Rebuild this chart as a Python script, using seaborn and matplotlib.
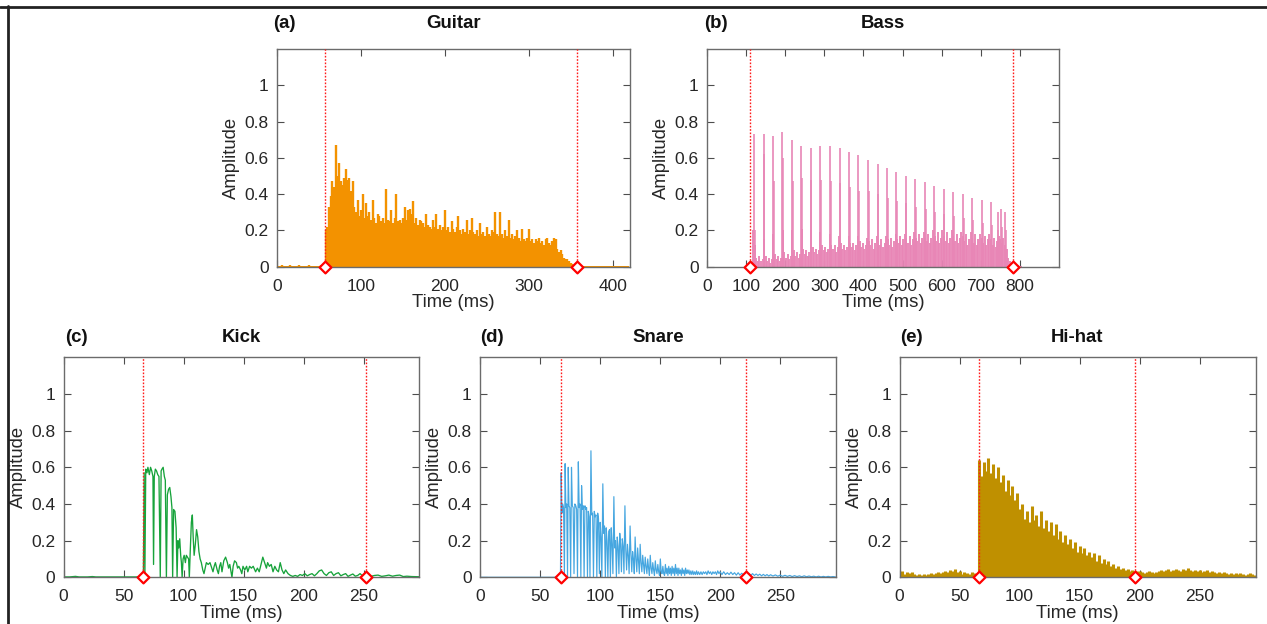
import numpy as np
import pandas as pd
import matplotlib
matplotlib.use("Agg")
import matplotlib.pyplot as plt
import seaborn as sns
from matplotlib.lines import Line2D

# ---------------- data ----------------
# Guitar: peak amplitude every 2 ms from 0 ms
guitar_step = 2
guitar_amp = [
    0.006, 0.005, 0.006, 0.007, 0.005, 0.006, 0.006, 0.005, 0.007, 0.006,
    0.005, 0.006, 0.006, 0.007, 0.005, 0.006, 0.006, 0.005, 0.006, 0.007,
    0.006, 0.005, 0.006, 0.006, 0.005, 0.006, 0.007, 0.006, 0.008,
    0.20, 0.22, 0.33, 0.39, 0.47, 0.44, 0.67, 0.50, 0.57, 0.47,
    0.45, 0.49, 0.54, 0.48, 0.49, 0.42, 0.47, 0.33, 0.30, 0.37,
    0.28, 0.31, 0.40, 0.27, 0.35, 0.28, 0.30, 0.26, 0.37, 0.27,
    0.24, 0.29, 0.28, 0.25, 0.27, 0.24, 0.43, 0.26, 0.25, 0.31,
    0.24, 0.27, 0.40, 0.25, 0.26, 0.24, 0.27, 0.33, 0.26, 0.31,
    0.32, 0.29, 0.36, 0.24, 0.27, 0.23, 0.26, 0.25, 0.24, 0.22,
    0.29, 0.23, 0.22, 0.21, 0.26, 0.22, 0.29, 0.21, 0.23, 0.20,
    0.22, 0.31, 0.20, 0.22, 0.19, 0.25, 0.21, 0.19, 0.22, 0.28,
    0.20, 0.18, 0.21, 0.19, 0.26, 0.18, 0.20, 0.27, 0.19, 0.18,
    0.20, 0.17, 0.24, 0.18, 0.19, 0.17, 0.22, 0.18, 0.17, 0.20,
    0.19, 0.30, 0.18, 0.17, 0.30, 0.18, 0.16, 0.20, 0.17, 0.26,
    0.16, 0.18, 0.15, 0.17, 0.20, 0.16, 0.14, 0.21, 0.15, 0.14,
    0.16, 0.21, 0.14, 0.15, 0.13, 0.15, 0.14, 0.16, 0.13, 0.14,
    0.12, 0.15, 0.16, 0.13, 0.12, 0.14, 0.16, 0.15, 0.10, 0.08,
    0.09, 0.07, 0.05, 0.04, 0.04, 0.03, 0.02, 0.015, 0.01, 0.008,
    0.006, 0.005,
    0.004, 0.005, 0.004, 0.003, 0.004, 0.003, 0.004, 0.003, 0.003, 0.004,
    0.003, 0.003, 0.002, 0.003, 0.003, 0.002, 0.003, 0.002, 0.003, 0.002,
    0.002, 0.003, 0.002, 0.002, 0.003, 0.002, 0.002, 0.002, 0.002,
]
guitar_marks = [57.5, 357.0]

# Bass: main pitch spikes, the spike right after each, and the low floor (every 4 ms from 110 ms)
bass_spike_t = [121, 145, 169, 193, 217, 241, 265, 290, 315, 339, 363, 387, 412, 436, 460,
                484, 508, 533, 557, 581, 605, 630, 654, 678, 703, 727, 743, 752, 762]
bass_spike_amp = [0.73, 0.73, 0.72, 0.74, 0.70, 0.665, 0.655, 0.665, 0.665, 0.655, 0.635,
                  0.615, 0.59, 0.565, 0.545, 0.52, 0.50, 0.485, 0.465, 0.445, 0.43, 0.41,
                  0.40, 0.38, 0.37, 0.355, 0.30, 0.32, 0.30]
bass_second_t = [123, 147, 171, 195, 219, 243, 267, 292, 317, 341, 365, 389, 414, 438, 462,
                 486, 510, 535, 559, 583, 607, 632, 656, 680, 705, 729, 745, 754, 764]
bass_second_amp = [0.20, 0.62, 0.47, 0.60, 0.47, 0.49, 0.48, 0.48, 0.47, 0.46, 0.44, 0.42,
                   0.42, 0.40, 0.38, 0.36, 0.35, 0.33, 0.32, 0.30, 0.29, 0.28, 0.27, 0.26,
                   0.24, 0.23, 0.20, 0.22, 0.20]
bass_floor_start = 110
bass_floor_step = 4
bass_floor = [
    0.01, 0.02, 0.20, 0.12, 0.05, 0.03, 0.06, 0.03, 0.04, 0.15,
    0.06, 0.03, 0.05, 0.02, 0.04, 0.18, 0.07, 0.04, 0.06, 0.03,
    0.05, 0.20, 0.08, 0.05, 0.07, 0.04, 0.06, 0.20, 0.09, 0.06,
    0.08, 0.05, 0.07, 0.21, 0.10, 0.07, 0.09, 0.06, 0.08, 0.20,
    0.11, 0.08, 0.10, 0.07, 0.09, 0.19, 0.12, 0.09, 0.11, 0.08,
    0.10, 0.18, 0.12, 0.10, 0.12, 0.08, 0.11, 0.17, 0.13, 0.10,
    0.12, 0.09, 0.11, 0.17, 0.13, 0.11, 0.13, 0.09, 0.12, 0.17,
    0.14, 0.11, 0.13, 0.10, 0.12, 0.16, 0.14, 0.12, 0.15, 0.10,
    0.13, 0.17, 0.14, 0.12, 0.15, 0.11, 0.13, 0.17, 0.15, 0.12,
    0.16, 0.11, 0.14, 0.18, 0.15, 0.13, 0.17, 0.12, 0.15, 0.18,
    0.16, 0.13, 0.17, 0.12, 0.15, 0.19, 0.16, 0.14, 0.18, 0.13,
    0.16, 0.19, 0.16, 0.14, 0.18, 0.13, 0.16, 0.20, 0.17, 0.14,
    0.19, 0.13, 0.16, 0.20, 0.17, 0.14, 0.19, 0.13, 0.16, 0.20,
    0.17, 0.14, 0.18, 0.13, 0.16, 0.19, 0.17, 0.14, 0.18, 0.12,
    0.15, 0.19, 0.16, 0.13, 0.18, 0.12, 0.15, 0.18, 0.16, 0.13,
    0.17, 0.12, 0.15, 0.18, 0.15, 0.12, 0.16, 0.11, 0.14, 0.17,
    0.15, 0.13, 0.16, 0.12, 0.10, 0.05, 0.03, 0.02, 0.015, 0.01,
    0.01, 0.008, 0.006, 0.004,
]
bass_marks = [110.0, 783.0]

# Kick: (time ms, amplitude) vertices of the trace
kick_points = [
    (0, 0.002), (5, 0.002), (8, 0.004), (10, 0.005), (13, 0.002), (20, 0.002), (24, 0.004),
    (27, 0.002), (35, 0.002), (45, 0.002), (55, 0.002), (64, 0.002), (66.5, 0.003),
    (67.2, 0.57), (67.8, 0.02), (68.5, 0.59), (69.5, 0.57), (70.3, 0.60), (71.5, 0.56),
    (72.5, 0.60), (73.5, 0.58), (74.5, 0.55), (75.0, 0.07), (75.6, 0.55), (76.5, 0.59),
    (77.5, 0.58), (78.5, 0.56), (79.5, 0.55), (80.6, 0.0), (81.3, 0.58), (82.0, 0.59),
    (83.0, 0.60), (84.0, 0.55), (84.8, 0.53), (85.7, 0.0), (86.5, 0.45), (87.5, 0.48),
    (88.5, 0.49), (89.5, 0.44), (90.3, 0.38), (90.9, 0.0), (91.7, 0.37), (92.8, 0.36),
    (93.8, 0.27), (94.6, 0.0), (95.3, 0.20), (96.0, 0.16), (96.8, 0.21), (97.6, 0.12),
    (98.2, 0.08), (98.8, 0.0), (99.6, 0.10), (100.5, 0.12), (101.5, 0.08), (102.3, 0.12),
    (103.3, 0.11), (104.2, 0.10), (104.8, 0.0), (105.6, 0.15), (106.5, 0.30), (107.3, 0.34),
    (108.0, 0.22), (108.8, 0.12), (109.8, 0.18), (110.8, 0.26), (111.8, 0.22), (112.8, 0.14),
    (113.8, 0.10), (114.8, 0.08), (116.0, 0.04), (117.0, 0.02), (118.0, 0.05), (119.0, 0.08),
    (120.5, 0.07), (122.0, 0.08), (123.5, 0.05), (124.5, 0.03), (125.5, 0.06), (126.5, 0.08),
    (128.0, 0.04), (129.0, 0.02), (130.0, 0.06), (131.0, 0.08), (132.0, 0.03), (133.5, 0.09),
    (135.0, 0.11), (136.5, 0.08), (137.5, 0.05), (138.5, 0.07), (139.5, 0.03), (140.3, 0.0),
    (141.3, 0.06), (142.5, 0.09), (144.0, 0.08), (145.0, 0.05), (146.0, 0.06), (147.5, 0.04),
    (148.5, 0.02), (149.5, 0.06), (151.0, 0.04), (152.5, 0.06), (153.5, 0.03), (155.0, 0.06),
    (156.5, 0.05), (158.0, 0.06), (160.0, 0.03), (161.5, 0.05), (163.0, 0.03), (164.5, 0.07),
    (166.0, 0.11), (167.5, 0.08), (169.0, 0.05), (170.0, 0.08), (171.5, 0.06), (173.0, 0.07),
    (174.5, 0.03), (176.0, 0.06), (177.5, 0.04), (179.0, 0.03), (180.5, 0.08), (182.0, 0.04),
    (183.5, 0.02), (185.0, 0.04), (187.0, 0.02), (189.0, 0.01), (191.0, 0.005), (193.0, 0.01),
    (195.0, 0.005), (197.0, 0.015), (199.0, 0.01), (201.0, 0.02), (203.0, 0.008), (205.0, 0.015),
    (207.0, 0.02), (209.0, 0.008), (211.0, 0.02), (213.0, 0.035), (215.0, 0.04), (217.0, 0.02),
    (219.0, 0.01), (221.0, 0.025), (223.0, 0.03), (225.0, 0.01), (227.0, 0.02), (229.0, 0.025),
    (231.0, 0.008), (233.0, 0.015), (235.0, 0.02), (237.0, 0.005), (239.0, 0.012), (241.0, 0.018),
    (243.0, 0.006), (245.0, 0.01), (247.0, 0.02), (249.0, 0.008), (251.0, 0.01), (253.0, 0.015),
    (256.0, 0.005), (259.0, 0.01), (262.0, 0.012), (265.0, 0.005), (268.0, 0.008), (271.0, 0.012),
    (274.0, 0.006), (277.0, 0.01), (280.0, 0.012), (283.0, 0.004), (286.0, 0.006), (290.0, 0.004),
    (296.0, 0.003),
]
kick_marks = [66.2, 252.0]

# Snare: (time ms, amplitude) vertices of the trace
snare_points = [
    (0, 0.0), (30, 0.0), (60, 0.0), (67.0, 0.0),
    (67.6, 0.57), (68.2, 0.35), (68.9, 0.40), (69.6, 0.38), (70.3, 0.0), (70.9, 0.62),
    (71.5, 0.38), (72.2, 0.40), (72.9, 0.0), (73.5, 0.60), (74.1, 0.39), (74.8, 0.38),
    (75.5, 0.0), (76.2, 0.60), (76.9, 0.39), (77.6, 0.38), (78.3, 0.02), (79.0, 0.40),
    (79.8, 0.39), (80.5, 0.37), (81.2, 0.0), (81.9, 0.63), (82.6, 0.38), (83.3, 0.40),
    (84.0, 0.0), (84.6, 0.50), (85.3, 0.37), (86.0, 0.39), (86.7, 0.0), (87.4, 0.39),
    (88.1, 0.37), (88.8, 0.38), (89.5, 0.0), (90.2, 0.36), (90.9, 0.33), (91.6, 0.0),
    (92.4, 0.69), (93.1, 0.34), (93.8, 0.35), (94.5, 0.0), (95.2, 0.36), (95.9, 0.33),
    (96.6, 0.34), (97.3, 0.0), (98.0, 0.35), (98.7, 0.32), (99.4, 0.02), (100.1, 0.30),
    (100.8, 0.22), (101.5, 0.0), (102.3, 0.51), (103.0, 0.24), (103.7, 0.28), (104.4, 0.0),
    (105.1, 0.27), (105.8, 0.20), (106.5, 0.0), (107.2, 0.25), (107.9, 0.26), (108.6, 0.0),
    (109.3, 0.27), (110.0, 0.18), (110.7, 0.02), (111.5, 0.44), (112.2, 0.16), (112.9, 0.20),
    (113.6, 0.0), (114.3, 0.22), (115.0, 0.17), (115.7, 0.02), (116.4, 0.24), (117.1, 0.18),
    (117.8, 0.03), (118.5, 0.21), (119.2, 0.17), (119.9, 0.02), (120.7, 0.39), (121.4, 0.15),
    (122.1, 0.04), (122.8, 0.18), (123.5, 0.12), (124.2, 0.02), (125.0, 0.28), (125.7, 0.13),
    (126.4, 0.03), (127.1, 0.14), (127.8, 0.10), (128.5, 0.02), (129.2, 0.22), (129.9, 0.10),
    (130.6, 0.03), (131.3, 0.16), (132.0, 0.09), (132.7, 0.02), (133.4, 0.18), (134.1, 0.08),
    (134.8, 0.03), (135.5, 0.12), (136.2, 0.07), (136.9, 0.02), (137.6, 0.11), (138.3, 0.06),
    (139.0, 0.02), (139.7, 0.10), (140.4, 0.05), (141.1, 0.01), (141.8, 0.12), (142.5, 0.05),
    (143.2, 0.02), (143.9, 0.08), (144.6, 0.04), (145.3, 0.01), (146.0, 0.09), (146.7, 0.04),
    (147.4, 0.02), (148.1, 0.07), (148.8, 0.03), (149.5, 0.01), (150.2, 0.10), (150.9, 0.03),
    (151.6, 0.02), (152.3, 0.06), (153.0, 0.02), (153.7, 0.01), (154.4, 0.07), (155.1, 0.02),
    (155.8, 0.05), (156.5, 0.01), (157.2, 0.06), (157.9, 0.02), (158.6, 0.05), (159.3, 0.01),
    (160.0, 0.06), (160.7, 0.02), (161.4, 0.05), (162.1, 0.01), (162.8, 0.07), (163.5, 0.02),
    (164.2, 0.05), (164.9, 0.01), (165.6, 0.05), (166.3, 0.02), (167.0, 0.04), (167.7, 0.01),
    (168.4, 0.05), (169.1, 0.02), (169.8, 0.04), (170.5, 0.01), (171.2, 0.05), (171.9, 0.02),
    (172.6, 0.04), (173.3, 0.02), (174.0, 0.04), (174.8, 0.015), (175.6, 0.035), (176.4, 0.015),
    (177.2, 0.035), (178.0, 0.015), (178.8, 0.03), (179.6, 0.015), (180.4, 0.035), (181.2, 0.015),
    (182.0, 0.03), (183.0, 0.015), (184.0, 0.03), (185.0, 0.015), (186.0, 0.03), (187.0, 0.02),
    (188.0, 0.03), (189.0, 0.015), (190.0, 0.035), (191.0, 0.02), (192.0, 0.03), (193.0, 0.015),
    (194.0, 0.03), (195.0, 0.02), (196.0, 0.03), (197.0, 0.015), (198.0, 0.035), (199.0, 0.02),
    (200.0, 0.03), (201.5, 0.015), (203.0, 0.03), (204.5, 0.015), (206.0, 0.025), (207.5, 0.015),
    (209.0, 0.028), (210.5, 0.015), (212.0, 0.025), (213.5, 0.012), (215.0, 0.025), (216.5, 0.012),
    (218.0, 0.022), (219.5, 0.012), (221.0, 0.022), (222.5, 0.012), (224.0, 0.02), (225.5, 0.01),
    (227.0, 0.02), (228.5, 0.01), (230.0, 0.018), (231.5, 0.01), (233.0, 0.017), (234.5, 0.008),
    (236.0, 0.016), (237.5, 0.008), (239.0, 0.015), (240.5, 0.007), (242.0, 0.014), (244.0, 0.007),
    (246.0, 0.013), (248.0, 0.006), (250.0, 0.012), (252.0, 0.005), (254.0, 0.011), (256.0, 0.005),
    (258.0, 0.01), (260.0, 0.004), (262.0, 0.009), (264.0, 0.004), (266.0, 0.008), (268.0, 0.003),
    (270.0, 0.008), (272.0, 0.003), (274.0, 0.007), (276.0, 0.003), (278.0, 0.006), (280.0, 0.002),
    (282.0, 0.006), (284.0, 0.002), (286.0, 0.005), (288.0, 0.002), (290.0, 0.005), (292.0, 0.002),
    (294.0, 0.004), (296.0, 0.002),
]
snare_marks = [67.2, 221.7]

# Hi-hat: peak amplitude every 2 ms from 0 ms
hihat_step = 2
hihat_amp = [
    0.030, 0.035, 0.020, 0.030, 0.025, 0.030, 0.020, 0.015, 0.020, 0.015,
    0.020, 0.015, 0.020, 0.025, 0.020, 0.025, 0.030, 0.025, 0.030, 0.035,
    0.030, 0.040, 0.035, 0.045, 0.030, 0.035, 0.020, 0.030, 0.025, 0.020,
    0.030, 0.025, 0.020,
    0.64, 0.55, 0.63, 0.58, 0.65, 0.57, 0.62, 0.54, 0.60, 0.52,
    0.56, 0.47, 0.53, 0.45, 0.50, 0.42, 0.46, 0.37, 0.40, 0.32,
    0.36, 0.30, 0.39, 0.31, 0.34, 0.28, 0.36, 0.27, 0.31, 0.25,
    0.30, 0.23, 0.29, 0.21, 0.25, 0.19, 0.23, 0.18, 0.21, 0.16,
    0.19, 0.14, 0.17, 0.13, 0.16, 0.12, 0.14, 0.11, 0.13, 0.09,
    0.12, 0.08, 0.10, 0.07, 0.09, 0.06, 0.075, 0.05, 0.06, 0.045,
    0.05, 0.04, 0.045, 0.035, 0.04, 0.03, 0.035,
    0.035, 0.030, 0.025, 0.030, 0.035, 0.030, 0.025, 0.030, 0.035, 0.040,
    0.035, 0.040, 0.045, 0.035, 0.040, 0.045, 0.040, 0.035, 0.045, 0.040,
    0.050, 0.040, 0.035, 0.040, 0.035, 0.040, 0.030, 0.035, 0.040, 0.030,
    0.035, 0.030, 0.025, 0.030, 0.025, 0.030, 0.025, 0.020, 0.025, 0.020,
    0.025, 0.020, 0.025, 0.020, 0.015, 0.020, 0.025, 0.020, 0.015,
]
hihat_marks = [65.8, 196.0]

titles = ["Guitar", "Bass", "Kick", "Snare", "Hi-hat"]
letters = ["(a)", "(b)", "(c)", "(d)", "(e)"]
xmax = [420, 900, 296.5, 296.5, 296.5]
xticks = [[0, 100, 200, 300, 400],
          [0, 100, 200, 300, 400, 500, 600, 700, 800],
          [0, 50, 100, 150, 200, 250],
          [0, 50, 100, 150, 200, 250],
          [0, 50, 100, 150, 200, 250]]
yticks = [0, 0.2, 0.4, 0.6, 0.8, 1]
ytick_labels = ["0", "0.2", "0.4", "0.6", "0.8", "1"]

colors = {"guitar": "#F39200", "bass": "#E886B6", "kick": "#17A33B",
          "snare": "#45A6E0", "hihat": "#BF9000"}

# ---------------- figure ----------------
sns.set_theme(style="white")
plt.rcParams["font.family"] = ["Liberation Sans", "DejaVu Sans"]

W, H = 1267, 624
fig = plt.figure(figsize=(W / 100, H / 100), dpi=100)

def px_axes(l, t, r, b):
    return fig.add_axes([l / W, 1 - b / H, (r - l) / W, (b - t) / H])

axes = [
    px_axes(277, 49, 629.5, 266.7),
    px_axes(707, 49, 1059, 266.7),
    px_axes(63.5, 357.3, 419.5, 577.3),
    px_axes(480, 357.3, 836, 577.3),
    px_axes(899.5, 357.3, 1255.5, 577.3),
]


def stems(t, a):
    t = np.asarray(t, dtype=float)
    a = np.asarray(a, dtype=float)
    n = len(a)
    return pd.DataFrame({
        "t": np.repeat(t, 2),
        "amp": np.column_stack([np.zeros(n), a]).ravel(),
        "seg": np.repeat(np.arange(n), 2),
    })


def draw_stems(ax, t, a, color, lw, alpha=1.0):
    sns.lineplot(data=stems(t, a), x="t", y="amp", units="seg", estimator=None,
                 sort=False, color=color, lw=lw, alpha=alpha, ax=ax, legend=False,
                 solid_capstyle="butt")


def draw_trace(ax, pts, color, lw):
    df = pd.DataFrame(pts, columns=["t", "amp"])
    sns.lineplot(data=df, x="t", y="amp", estimator=None, sort=False,
                 color=color, lw=lw, ax=ax, legend=False)


# (a) guitar
g_t = guitar_step * np.arange(len(guitar_amp))
draw_stems(axes[0], g_t, guitar_amp, colors["guitar"], 1.7)

# (b) bass
bf_t = bass_floor_start + bass_floor_step * np.arange(len(bass_floor))
draw_stems(axes[1], bf_t, bass_floor, colors["bass"], 1.35)
draw_stems(axes[1], bass_second_t, bass_second_amp, colors["bass"], 1.1)
draw_stems(axes[1], bass_spike_t, bass_spike_amp, colors["bass"], 1.2)

# (c) kick, (d) snare
draw_trace(axes[2], kick_points, colors["kick"], 0.95)
draw_trace(axes[3], snare_points, colors["snare"], 0.85)

# (e) hi-hat
h_t = hihat_step * np.arange(len(hihat_amp))
draw_stems(axes[4], h_t, hihat_amp, colors["hihat"], 2.2)

marks = [guitar_marks, bass_marks, kick_marks, snare_marks, hihat_marks]
title_off = [25 / 217.7, 25 / 217.7, 19.6 / 220, 19.6 / 220, 19.6 / 220]
letter_x = [-0.012, -0.008, 0.005, 0.0, 0.002]

for i, ax in enumerate(axes):
    m = marks[i]
    for xm in m:
        ax.axvline(xm, color="#FF1A1A", ls=(0, (1.2, 1.2)), lw=1.0, zorder=4)
    sns.scatterplot(x=m, y=[0, 0], marker="D", s=36, color="white",
                    edgecolor="#FF0000", linewidth=1.6, zorder=6, clip_on=False,
                    ax=ax, legend=False)
    ax.set_xlim(0, xmax[i])
    ax.set_ylim(0, 1.2)
    ax.set_xticks(xticks[i])
    ax.set_xticklabels([str(v) for v in xticks[i]])
    ax.set_yticks(yticks)
    ax.set_yticklabels(ytick_labels)
    ax.tick_params(axis="both", direction="in", top=True, right=True, bottom=True, left=True,
                   length=5, width=0.8, color="#4d4d4d", labelsize=12.5, labelcolor="#262626")
    ax.tick_params(axis="x", pad=8.5)
    ax.tick_params(axis="y", pad=6)
    for s in ax.spines.values():
        s.set_visible(True)
        s.set_color("#6b6b6b")
        s.set_linewidth(1.0)
    ax.set_xlabel("Time (ms)", fontsize=13.3, color="#262626", labelpad=0.5)
    ax.set_ylabel("Amplitude", fontsize=13.3, color="#262626", labelpad=3)
    ax.text(0.5, 1 + title_off[i], titles[i], transform=ax.transAxes, ha="center",
            va="center", fontsize=13.4, fontweight="bold", color="#111111")
    ax.text(letter_x[i], 1 + title_off[i], letters[i], transform=ax.transAxes, ha="left",
            va="center", fontsize=13.4, fontweight="bold", color="#111111")
    ax.set_facecolor("white")

# outer frame lines (top and left)
fig.add_artist(Line2D([0, 1], [1 - 7.2 / H, 1 - 7.2 / H], transform=fig.transFigure,
                      color="#222222", lw=2.0))
fig.add_artist(Line2D([8.2 / W, 8.2 / W], [0, 1 - 6.2 / H], transform=fig.transFigure,
                      color="#222222", lw=2.0))

fig.savefig("out.png", dpi=100, facecolor="white")
